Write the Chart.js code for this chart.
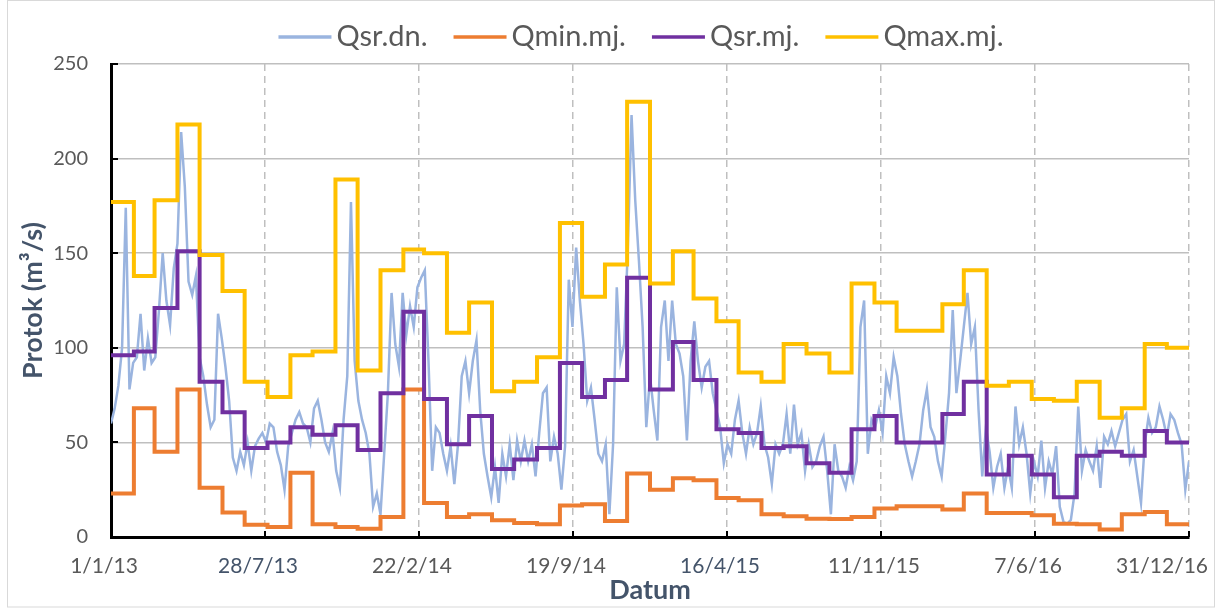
<!DOCTYPE html>
<html>
<head>
<meta charset="utf-8">
<script src="https://cdn.jsdelivr.net/npm/chart.js@4.4.1/dist/chart.umd.min.js"></script>
<style>
  html, body { margin: 0; background: #fff; }
</style>
</head>
<body>
<canvas id="graf" width="1217" height="608"></canvas>
<script>
// Protok 2013-2016: dnevni srednji protok + mjesecni min / sr / max (m3/s)
const POCETAK = Date.UTC(2013, 0, 1);
const KORAK_DANA = 5;          // Qsr.dn. ocitan sa slike svakih 5 dana
const UKUPNO_DANA = 1460;      // 1/1/13 .. 31/12/16

const qsrDn = [
  60, 68, 80, 100, 174, 78, 92, 95, 118, 88,
  105, 92, 95, 120, 150, 125, 112, 142, 155, 214,
  185, 135, 128, 138, 95, 85, 70, 58, 62, 118,
  105, 90, 72, 42, 35, 45, 38, 50, 35, 48,
  52, 55, 50, 60, 58, 45, 38, 25, 48, 55,
  62, 66, 60, 58, 50, 68, 72, 62, 50, 45,
  55, 35, 26, 62, 85, 177, 93, 72, 62, 55,
  44, 16, 23, 12, 44, 76, 129, 102, 90, 129,
  107, 122, 111, 132, 137, 141, 93, 35, 58, 55,
  44, 35, 48, 28, 49, 85, 93, 76, 93, 104,
  67, 44, 32, 21, 37, 18, 44, 32, 49, 30,
  51, 40, 51, 40, 49, 32, 55, 76, 79,
  40, 53, 44, 25, 48, 136, 111, 153, 125, 102,
  72, 79, 62, 44, 40, 49, 12, 49, 132, 93,
  102, 153, 223, 178, 146, 111, 58, 85, 67, 51,
  111, 125, 93, 125, 102, 97, 85, 51, 93, 114,
  93, 79, 90, 93, 76, 67, 58, 39, 49, 44,
  62, 72, 55, 44, 58, 49, 55, 69, 49, 42,
  28, 49, 44, 49, 65, 44, 70, 49, 55, 35,
  49, 37, 40, 48, 53, 35, 12, 49, 35, 32,
  26, 37, 30, 40, 111, 125, 44, 62, 58, 67,
  55, 85, 76, 95, 85, 65, 49, 40, 32, 40,
  49, 67, 78, 58, 53, 40, 32, 53, 76, 120,
  76, 93, 111, 129, 102, 111, 67, 32, 58, 45,
  26, 37, 44, 26, 37, 26, 69, 49, 58, 44,
  23, 40, 32, 51, 26, 40, 33, 48, 16, 8,
  7, 9, 23, 69, 35, 46, 40, 35, 48, 26,
  53, 49, 56, 48, 55, 62, 65, 40, 46, 32,
  18, 49, 63, 55, 58, 69, 62, 53, 65, 62,
  55, 49, 25, 40
];

// mjesecne vrijednosti, sij 2013 .. pro 2016
const qminMj = [
  23, 68, 45, 78, 26, 13, 6.5, 5.3, 34, 6.7, 5.3, 4.4,
  10.6, 78, 18, 10.6, 12, 8.8, 7.4, 6.7, 16.7, 17.3, 8.5, 33.5,
  25, 31, 30, 20.6, 19.4, 12, 11, 9.7, 9.5, 10.6, 15, 16.2,
  16.2, 14.5, 23, 12.7, 12.7, 11.5, 7, 6.7, 3.9, 12, 13.2, 6.7
];
const qsrMj = [
  96, 98, 121, 151, 82, 66, 47, 50, 58, 54, 59, 46,
  76, 119, 73, 49, 64, 36, 41, 47, 92, 74, 83, 137,
  78, 103, 83, 57, 55, 47, 48, 39, 34, 57, 64, 50,
  50, 65, 82, 33, 43, 33, 21, 43, 45, 43, 56, 50
];
const qmaxMj = [
  177, 138, 178, 218, 149, 130, 82, 74, 96, 98, 189, 88,
  141, 152, 150, 108, 124, 77, 82, 95, 166, 127, 144, 230,
  134, 151, 126, 114, 87, 82, 102, 97, 87, 134, 124, 109,
  109, 123, 141, 80, 82, 73, 72, 82, 63, 68, 102, 100
];

const xOznake = ["1/1/13", "28/7/13", "22/2/14", "19/9/14", "16/4/15", "11/11/15", "7/6/16", "31/12/16"];
const xBoje = ["#595959", "#44546A", "#595959", "#595959", "#44546A", "#595959", "#595959", "#595959"];

const C = { dn: "#9AB4DF", min: "#ED7D31", sr: "#7030A0", max: "#FFC000", txt: "#595959", naslov: "#44546A", grid: "#BFBFBF" };

const danOd = (g, m) => (Date.UTC(g, m, 1) - POCETAK) / 864e5;

function mjesecni(vals) {
  const pts = vals.map((v, i) => ({ x: danOd(2013, i), y: v }));
  pts.push({ x: UKUPNO_DANA, y: vals[vals.length - 1] });
  return pts;
}

Chart.defaults.font.family = "Lato, 'Open Sans', sans-serif";

// okvir oko cijelog grafa
const okvir = {
  id: "okvir",
  beforeDraw(chart) {
    const ctx = chart.ctx;
    ctx.save();
    ctx.strokeStyle = "#D9D9D9";
    ctx.lineWidth = 1;
    ctx.strokeRect(7.5, 0.5, 1207, 606.5);
    ctx.restore();
  },
};

// unutarnje crtice na osima, oznake datuma i legenda
const osi = {
  id: "osi",
  afterDraw(chart) {
    const { ctx, chartArea: a, scales: { x, y } } = chart;
    ctx.save();
    ctx.strokeStyle = "#000";
    ctx.lineWidth = 2;
    ctx.beginPath();
    y.ticks.forEach((t) => {
      const py = Math.round(y.getPixelForValue(t.value));
      ctx.moveTo(a.left, py);
      ctx.lineTo(a.left + 7, py);
    });
    x.ticks.forEach((t) => {
      const px = Math.round(x.getPixelForValue(t.value));
      ctx.moveTo(px, a.bottom);
      ctx.lineTo(px, a.bottom - 6);
    });
    ctx.stroke();

    ctx.font = "21px Lato";
    ctx.textAlign = "center";
    ctx.textBaseline = "middle";
    x.ticks.forEach((t, i) => {
      const w = ctx.measureText(xOznake[i]).width;
      const cx = Math.min(x.getPixelForValue(t.value) - 7, 1208 - w / 2);
      ctx.fillStyle = xBoje[i];
      ctx.fillText(xOznake[i], cx, 566);
    });

    // legenda
    ctx.font = "29px Lato";
    ctx.textAlign = "left";
    const stavke = chart.data.datasets.map((d) => ({ t: d.label, c: d.borderColor, w: ctx.measureText(d.label).width }));
    const linija = 53, razmak = 5, izmedu = 26;
    const ukupno = stavke.reduce((s, it) => s + linija + razmak + it.w, 0) + izmedu * (stavke.length - 1);
    let lx = 641 - ukupno / 2;
    const ly = 37;
    stavke.forEach((it) => {
      ctx.strokeStyle = it.c;
      ctx.lineWidth = 3.5;
      ctx.beginPath();
      ctx.moveTo(lx, ly);
      ctx.lineTo(lx + linija, ly);
      ctx.stroke();
      ctx.fillStyle = C.txt;
      ctx.fillText(it.t, lx + linija + razmak, ly);
      lx += linija + razmak + it.w + izmedu;
    });
    ctx.restore();
  },
};

new Chart(document.getElementById("graf"), {
  type: "line",
  data: {
    datasets: [
      { label: "Qsr.dn.", data: qsrDn.map((v, i) => ({ x: i * KORAK_DANA, y: v })), borderColor: C.dn, borderWidth: 2.5, order: 10 },
      { label: "Qmin.mj.", data: mjesecni(qminMj), borderColor: C.min, borderWidth: 4, stepped: true, order: 3 },
      { label: "Qsr.mj.", data: mjesecni(qsrMj), borderColor: C.sr, borderWidth: 4, stepped: true, order: 2 },
      { label: "Qmax.mj.", data: mjesecni(qmaxMj), borderColor: C.max, borderWidth: 4, stepped: true, order: 1 },
    ],
  },
  options: {
    responsive: false,
    animation: false,
    devicePixelRatio: 1,
    layout: { padding: { top: 64, right: 28, bottom: 0, left: 0 } },
    elements: { point: { radius: 0 }, line: { tension: 0, fill: false } },
    plugins: { legend: { display: false }, tooltip: { enabled: false } },
    scales: {
      x: {
        type: "linear",
        min: 0,
        max: UKUPNO_DANA,
        afterBuildTicks: (s) => {
          s.ticks = xOznake.map((_, i) => ({ value: (i * UKUPNO_DANA) / (xOznake.length - 1) }));
        },
        afterFit: (s) => { s.height = 71; },
        ticks: { display: false },
        grid: { color: C.grid, lineWidth: 1.5, drawTicks: false },
        border: { color: "#000", width: 3, dash: [7, 5] },
        title: { display: true, text: "Datum", color: C.naslov, font: { size: 27, weight: "bold" }, padding: { top: 0, bottom: 2 } },
      },
      y: {
        min: 0,
        max: 250,
        afterFit: (s) => { s.width = 111; },
        ticks: { stepSize: 50, color: C.txt, font: { size: 20 }, padding: 23 },
        grid: { color: C.grid, lineWidth: 1.5, drawTicks: false },
        border: { color: "#000", width: 3 },
        title: { display: true, text: "Protok (m³/s)", color: C.naslov, font: { size: 27, weight: "bold" }, padding: { top: 17, bottom: 0 } },
      },
    },
  },
  plugins: [okvir, osi],
});
</script>
</body>
</html>
